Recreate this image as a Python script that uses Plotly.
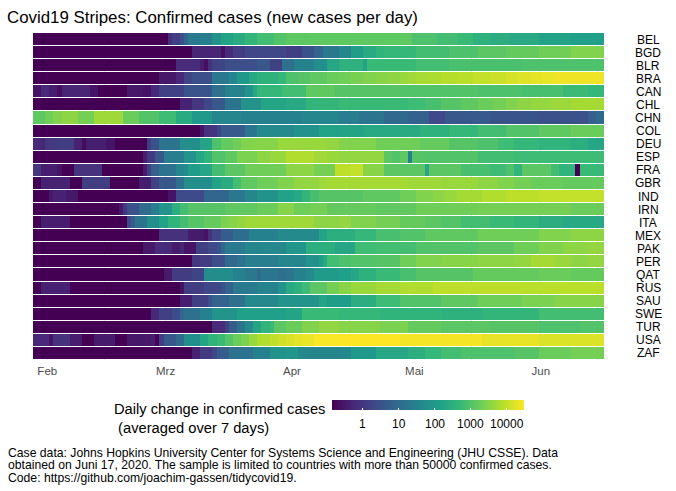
import pandas as pd
import plotly.graph_objects as go

W, H = 676, 491
L, R, T, B = 33, 604, 33, 360

COUNTRIES = ["BEL","BGD","BLR","BRA","CAN","CHL","CHN","COL","DEU","ESP","FRA","GBR","IND",
             "IRN","ITA","MEX","PAK","PER","QAT","RUS","SAU","SWE","TUR","USA","ZAF"]
N_DAYS = 140
FIRST_DAY = "2020-01-29"
MONTH_TICKS = ["2020-02-01","2020-03-01","2020-04-01","2020-05-01","2020-06-01"]
MONTH_LABELS = ["Feb","Mrz","Apr","Mai","Jun"]
MID_TICKS = ["2020-02-15","2020-03-15","2020-04-15","2020-05-15","2020-06-15"]
CB_TICKS = [0,1,2,3,4]
CB_LABELS = ["1","10","100","1000","10000"]
ZMIN, ZMAX = -0.845, 4.478
CAPTION = ["Case data: Johns Hopkins University Center for Systems Science and Engineering (JHU CSSE). Data",
           "obtained on Juni 17, 2020. The sample is limited to countries with more than 50000 confirmed cases.",
           "Code: https://github.com/joachim-gassen/tidycovid19."]

# (through day index, log10 of new cases per day)
BEL = [(33,-.85),(34,-.15),(35,.2),(36,.1),(37,.5),(38,.85),(41,1.35),(44,1.45),(46,1.85),(49,2.2),(52,2.4),(55,2.65),(59,2.85),(62,3.0),(68,3.12),(93,3.13),(99,2.95),(104,2.85),(108,2.75),(112,2.55),(117,2.45),(124,2.35),(132,2.2),(140,2.15)]
BGD = [(39,-.85),(46,-.3),(47,-.6),(49,-.2),(52,.1),(62,.3),(66,.15),(69,.5),(71,.9),(75,1.3),(78,1.6),(81,2.1),(84,2.4),(86,2.6),(94,2.7),(102,2.85),(109,2.95),(116,3.1),(124,3.2),(132,3.3),(140,3.45)]
BLR = [(35,-.85),(41,-.2),(42,-.4),(43,-.65),(44,-.1),(47,.25),(55,.45),(58,.6),(61,.2),(64,1.1),(69,1.5),(72,1.8),(75,2.3),(81,2.55),(82,2.2),(94,2.75),(102,2.85),(120,2.92),(140,2.95)]
BRA = [(31,-.85),(35,-.5),(37,-.25),(39,.25),(44,.45),(48,1.3),(50,1.6),(53,2.0),(55,2.35),(60,2.55),(62,2.7),(65,2.95),(68,3.05),(72,3.15),(75,3.25),(78,3.3),(81,3.38),(84,3.45),(87,3.5),(90,3.55),(92,3.65),(94,3.72),(97,3.78),(100,3.82),(104,3.88),(108,3.92),(112,4.0),(116,4.07),(119,4.15),(122,4.22),(125,4.28),(128,4.32),(140,4.36)]
CAN = [(2,-.55),(4,-.2),(6,-.4),(7,-.65),(14,-.3),(16,-.55),(23,-.85),(27,-.5),(29,-.55),(31,-.25),(37,.2),(44,.55),(47,1.1),(52,1.55),(54,1.9),(55,2.35),(61,2.7),(67,2.85),(74,3.15),(90,3.05),(109,3.0),(120,2.95),(130,2.9),(136,2.78),(140,2.7)]
CHL = [(36,-.85),(39,-.35),(42,.0),(44,.3),(47,.6),(51,1.2),(56,1.85),(62,2.25),(67,2.35),(75,2.65),(92,2.75),(96,2.8),(100,2.9),(105,3.05),(109,3.15),(113,3.25),(116,3.35),(119,3.45),(122,3.55),(127,3.62),(132,3.68),(140,3.75)]
CHN = [(3,3.15),(5,3.3),(7,3.45),(11,3.55),(15,3.35),(22,3.7),(26,3.25),(31,3.0),(35,2.8),(39,2.4),(44,2.0),(51,1.6),(66,1.5),(75,1.6),(80,1.4),(86,1.25),(92,.95),(97,.8),(101,.35),(106,.6),(112,.65),(124,.55),(136,.5),(138,.75),(140,.95)]
COL = [(41,-.85),(42,-.55),(45,-.05),(46,.25),(52,.65),(55,1.25),(64,1.7),(70,1.85),(75,2.2),(81,2.25),(90,2.35),(95,2.4),(102,2.55),(109,2.7),(116,2.85),(124,3.0),(132,3.15),(140,3.25)]
DEU = [(2,-.2),(3,-.3),(6,.05),(10,.1),(12,-.35),(13,-.7),(18,-.4),(20,-.55),(28,-.85),(29,.1),(31,.5),(36,1.2),(41,1.8),(44,2.25),(46,2.95),(49,3.2),(51,3.3),(54,3.45),(60,3.5),(72,3.65),(75,3.6),(84,3.45),(95,3.3),(102,3.2),(109,3.05),(114,2.95),(118,2.8),(124,2.7),(132,2.6),(136,2.5),(140,2.3)]
ESP = [(27,-.85),(28,-.4),(30,.0),(32,.6),(37,1.4),(40,1.9),(42,2.3),(44,2.6),(47,3.0),(50,3.15),(55,3.4),(58,3.55),(62,3.65),(69,3.85),(72,3.72),(75,3.65),(86,3.6),(88,3.1),(90,3.0),(92,3.15),(93,1.5),(96,3.05),(109,3.0),(118,2.85),(140,2.8)]
FRA = [(2,.0),(6,-.4),(7,-.55),(10,-.85),(17,-.05),(27,-.85),(28,-.45),(29,.15),(31,.75),(35,1.15),(37,1.6),(38,1.75),(41,2.1),(44,2.3),(47,2.85),(52,3.1),(62,3.3),(69,3.55),(74,3.35),(78,3.95),(81,4.0),(86,3.5),(96,3.1),(97,2.3),(105,3.1),(112,2.9),(116,2.8),(118,2.95),(120,2.6),(127,3.1),(129,2.85),(133,2.6),(134,-.85),(140,2.75)]
GBR = [(2,-.85),(9,-.35),(12,-.85),(19,.1),(26,-.85),(29,-.4),(31,.2),(35,.6),(37,1.1),(44,1.75),(46,2.2),(49,2.4),(51,2.85),(55,3.15),(60,3.3),(64,3.45),(70,3.6),(72,3.7),(92,3.75),(100,3.7),(109,3.65),(114,3.55),(118,3.45),(122,3.35),(130,3.25),(140,3.2)]
IND = [(4,-.85),(5,-.5),(8,-.35),(11,-.5),(33,-.85),(35,-.55),(42,.35),(48,.9),(52,1.3),(55,1.6),(60,1.85),(64,2.2),(66,2.35),(68,2.65),(70,2.9),(81,3.05),(90,3.15),(94,3.3),(98,3.45),(101,3.55),(104,3.65),(110,3.75),(116,3.85),(124,3.95),(140,4.0)]
IRN = [(21,-.85),(22,-.5),(23,.0),(26,.5),(29,1.0),(31,1.4),(34,1.9),(36,2.5),(38,2.85),(47,3.05),(55,3.15),(60,3.25),(64,3.5),(68,3.3),(72,3.35),(84,3.2),(94,3.15),(109,3.3),(120,3.35),(132,3.35),(140,3.25)]
ITA = [(2,-.85),(9,-.4),(23,-.85),(24,.35),(25,.7),(28,1.2),(31,1.8),(33,2.2),(36,2.6),(38,2.85),(42,3.05),(46,3.2),(48,3.4),(50,3.5),(52,3.6),(69,3.7),(75,3.55),(78,3.6),(84,3.45),(90,3.35),(96,3.2),(100,3.1),(105,3.0),(112,2.85),(118,2.75),(124,2.65),(130,2.45),(140,2.35)]
MEX = [(31,-.85),(38,-.1),(42,-.45),(43,-.55),(44,-.1),(46,.3),(49,.7),(53,1.05),(60,1.5),(70,1.7),(72,2.25),(79,2.5),(84,2.7),(90,2.9),(96,3.0),(109,3.15),(124,3.3),(132,3.45),(140,3.55)]
PAK = [(27,-.85),(30,-.5),(34,-.2),(36,-.45),(37,-.3),(40,-.55),(43,.15),(45,.35),(46,.55),(47,.9),(52,1.35),(56,1.6),(62,1.65),(67,1.95),(74,2.5),(79,2.3),(84,2.8),(94,2.85),(109,3.0),(118,3.1),(124,3.3),(130,3.45),(136,3.55),(140,3.6)]
PER = [(39,-.85),(41,.0),(44,.1),(47,.45),(50,.95),(52,1.15),(60,1.4),(67,1.6),(70,1.85),(71,2.1),(72,2.35),(75,2.85),(78,2.95),(84,3.0),(90,3.05),(94,3.3),(100,3.45),(109,3.5),(118,3.55),(122,3.6),(128,3.75),(132,3.65),(136,3.55),(140,3.6)]
QAT = [(32,-.85),(34,-.45),(39,.1),(42,.25),(49,1.75),(52,1.5),(55,1.3),(56,1.0),(60,1.25),(62,1.1),(64,1.25),(67,1.5),(69,1.7),(75,2.05),(78,2.15),(80,2.3),(84,2.55),(90,2.75),(94,2.9),(108,3.05),(124,3.2),(132,3.25),(140,3.2)]
RUS = [(2,-.85),(9,-.35),(36,-.85),(37,-.6),(42,.1),(46,.3),(47,.55),(49,.8),(55,1.35),(60,1.55),(62,1.9),(64,2.35),(66,2.55),(68,2.8),(72,3.1),(75,3.35),(78,3.5),(84,3.65),(90,3.75),(98,3.85),(120,3.95),(140,3.92)]
SAU = [(36,-.85),(39,-.4),(43,.15),(44,.5),(48,.85),(52,1.1),(60,1.65),(70,1.9),(72,2.25),(78,2.1),(84,2.45),(90,2.8),(100,3.0),(109,3.15),(120,3.3),(128,3.4),(140,3.5)]
SWE = [(29,-.85),(31,-.25),(34,.2),(36,.4),(37,.9),(41,1.1),(44,1.5),(50,1.9),(62,2.15),(66,2.25),(75,2.75),(85,2.7),(100,2.6),(110,2.55),(124,2.65),(140,2.85)]
TUR = [(44,-.85),(47,-.2),(48,.2),(50,.7),(52,1.2),(54,1.7),(56,2.25),(58,2.6),(59,2.75),(62,3.1),(66,3.25),(70,3.45),(75,3.6),(85,3.5),(92,3.4),(100,3.2),(112,3.1),(124,3.05),(134,2.95),(140,3.0)]
USA = [(2,-.25),(4,-.2),(5,-.55),(9,-.1),(12,-.4),(15,-.85),(20,-.45),(23,-.85),(29,-.5),(30,-.4),(31,-.8),(32,.1),(35,.6),(37,1.0),(41,1.8),(43,2.25),(45,2.6),(47,2.75),(49,3.0),(51,3.25),(53,3.4),(55,3.65),(58,3.85),(60,3.98),(62,4.08),(64,4.18),(66,4.25),(69,4.32),(75,4.45),(90,4.478),(110,4.4),(124,4.3),(140,4.2)]
ZAF = [(39,-.85),(41,-.35),(44,.05),(45,.3),(48,.7),(54,1.15),(58,1.5),(62,1.85),(65,1.95),(67,1.65),(75,1.62),(78,1.65),(84,2.0),(92,2.3),(96,2.5),(100,2.7),(105,2.85),(118,2.95),(124,3.05),(132,3.25),(140,3.35)]

ROWS = [BEL,BGD,BLR,BRA,CAN,CHL,CHN,COL,DEU,ESP,FRA,GBR,IND,IRN,ITA,MEX,PAK,PER,QAT,RUS,SAU,SWE,TUR,USA,ZAF]

def expand(runs):
    out, start = [], 0
    for end, v in runs:
        out += [v] * (end - start)
        start = end
    return out

z = [expand(r) for r in ROWS]
days = pd.date_range(FIRST_DAY, periods=N_DAYS)
PW, PH = R - L, B - T

def px(x):
    return (x - L) / PW
def py(y):
    return (B - y) / PH

CB_L, CB_W = 332, 192

fig = go.Figure(go.Heatmap(
    x=days, y=COUNTRIES, z=z, ygap=1, zmin=ZMIN, zmax=ZMAX, colorscale="Viridis",
    hoverongaps=False,
    colorbar=dict(
        orientation="h", lenmode="pixels", len=CB_W, thicknessmode="pixels", thickness=10,
        x=px(CB_L), xanchor="left", y=py(400), yanchor="top",
        xpad=0, ypad=0, outlinewidth=0, borderwidth=0,
        tickmode="array", tickvals=CB_TICKS, ticktext=[""] * len(CB_TICKS),
        ticks="inside", ticklen=2, tickwidth=1, tickcolor="white",
    ),
))

anns = [dict(xref="paper", yref="y", x=px(648), y=c, text=c, showarrow=False,
             xanchor="center", yanchor="middle",
             font=dict(family="Liberation Sans", size=12, color="black")) for c in COUNTRIES]
for v, lab in zip(CB_TICKS, CB_LABELS):
    anns.append(dict(xref="paper", yref="paper", x=px(CB_L + (v - ZMIN) / (ZMAX - ZMIN) * CB_W), y=py(424),
                     text=lab, showarrow=False, xanchor="center", yanchor="middle",
                     font=dict(family="Liberation Sans", size=12, color="black")))
anns.append(dict(xref="paper", yref="paper", x=px(111.5), y=py(418),
                 text="Daily change in confirmed cases<br>\u00a0(averaged over 7 days)",
                 showarrow=False, xanchor="left", yanchor="middle", align="left",
                 font=dict(family="Liberation Sans", size=14.7, color="black")))
for line, yy in zip(CAPTION, [452.6, 465.4, 478.2]):
    anns.append(dict(xref="paper", yref="paper", x=px(5.5), y=py(yy), text=line,
                     showarrow=False, xanchor="left", yanchor="middle", align="left",
                     font=dict(family="Liberation Sans", size=12.2, color="black")))

fig.update_layout(
    width=W, height=H, paper_bgcolor="white", plot_bgcolor="white",
    margin=dict(l=L, r=W - R, t=T, b=H - B, pad=0, autoexpand=False),
    title=dict(text="Covid19 Stripes: Confirmed cases (new cases per day)",
               x=7 / W, xanchor="left", xref="container", y=1 - 17 / H, yanchor="middle", yref="container",
               font=dict(family="Liberation Sans", size=16.85, color="black")),
    xaxis=dict(type="date", range=["2020-01-28 12:00", "2020-06-16 12:00"],
               tickmode="array", tickvals=MONTH_TICKS, ticktext=MONTH_LABELS,
               showgrid=True, gridcolor="#ebebeb", gridwidth=1, ticks="", zeroline=False,
               ticklabelstandoff=2,
               minor=dict(tickmode="array", tickvals=MID_TICKS, showgrid=True, gridcolor="#ebebeb", gridwidth=1, ticks=""),
               tickfont=dict(family="Liberation Sans", size=11.5, color="#4d4d4d")),
    yaxis=dict(type="category", range=[len(COUNTRIES) - 0.5, -0.5], showticklabels=False, showgrid=False,
               ticks="", zeroline=False),
    annotations=anns, font=dict(family="Liberation Sans"),
)
fig.write_html("out.html", config={"displayModeBar": False},
               post_script="document.body.style.margin='0';")
